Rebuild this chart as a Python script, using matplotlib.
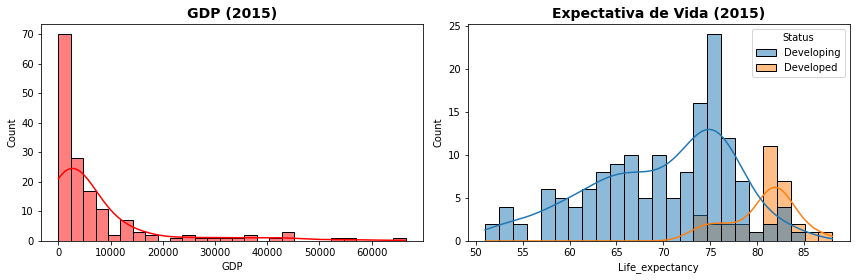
import numpy as np
import pandas as pd
import matplotlib
matplotlib.use("Agg")
import matplotlib.pyplot as plt
import seaborn as sns

# GDP 2015: counts per bin (28 bins between gdp_min and gdp_max)
gdp_min, gdp_max = 0, 66500
gdp_counts = [70, 28, 17, 11, 2, 7, 3, 2, 0, 1, 2, 1, 1, 1,
              1, 2, 0, 1, 3, 0, 0, 0, 1, 1, 0, 0, 0, 1]

# life expectancy 2015: counts per bin (25 bins between le_min and le_max)
le_min, le_max = 51.0, 88.0
status_levels = ["Developing", "Developed"]
developing_counts = [2, 4, 2, 0, 6, 5, 4, 6, 8, 9, 10, 5, 10, 5, 8,
                     16, 24, 12, 7, 1, 2, 4, 1, 0, 0]
developed_counts = [0, 0, 0, 0, 0, 0, 0, 0, 0, 0, 0, 0, 0, 0, 0,
                    3, 2, 2, 2, 1, 11, 7, 2, 1, 1]


def bin_samples(counts, lo, hi):
  # one value per country, placed at the middle of its bin
  edges = np.linspace(lo, hi, len(counts) + 1)
  centers = (edges[:-1] + edges[1:]) / 2
  return np.repeat(centers, counts)


gdp = bin_samples(gdp_counts, gdp_min, gdp_max)

frames = []
for status, counts in zip(status_levels, [developing_counts, developed_counts]):
  vals = bin_samples(counts, le_min, le_max)
  frames.append(pd.DataFrame({"Life_expectancy": vals, "Status": status}))
life = pd.concat(frames, ignore_index=True)

fig = plt.figure(figsize=(856 / 72, 280 / 72), dpi=72)
ax1 = fig.add_axes([41 / 856, 39 / 280, 382 / 856, 217 / 280])
ax2 = fig.add_axes([467.7 / 856, 39 / 280, 382 / 856, 217 / 280])

sns.histplot(x=gdp, bins=len(gdp_counts), binrange=(gdp_min, gdp_max), kde=True,
             color="red", kde_kws={"cut": 1, "clip": (gdp_min, gdp_max)}, ax=ax1)
ax1.set_title("GDP (2015)", fontsize=14, fontweight="bold")
ax1.set_xlabel("GDP")
ax1.set_ylabel("Count")

sns.histplot(data=life, x="Life_expectancy", hue="Status", hue_order=status_levels,
             bins=len(developing_counts), binrange=(le_min, le_max), kde=True,
             kde_kws={"cut": 1, "clip": (le_min, le_max)}, ax=ax2)
ax2.set_title("Expectativa de Vida (2015)", fontsize=14, fontweight="bold")
ax2.set_ylabel("Count")

fig.savefig("out.png", dpi=72)
